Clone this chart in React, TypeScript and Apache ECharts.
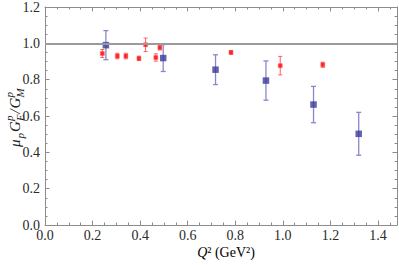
import React, { useEffect, useRef } from "react";
import * as echarts from "echarts";

const blueQ2 = [0.256, 0.497, 0.717, 0.929, 1.129, 1.319];
const blueRatio = [0.99, 0.919, 0.855, 0.795, 0.663, 0.502];
const blueErr = [0.08, 0.074, 0.082, 0.108, 0.1, 0.118];

const redQ2 = [0.241, 0.304, 0.34, 0.395, 0.423, 0.466, 0.483, 0.782, 0.989, 1.168];
const redRatio = [0.944, 0.93, 0.93, 0.917, 0.992, 0.922, 0.977, 0.95, 0.877, 0.882];
const redErr = [0.022, 0.015, 0.015, 0.012, 0.037, 0.02, 0.014, 0.01, 0.051, 0.014];

const xTickLabels = ["0.0", "0.2", "0.4", "0.6", "0.8", "1.0", "1.2", "1.4"];
const yTickLabels = ["0.0", "0.2", "0.4", "0.6", "0.8", "1.0", "1.2"];

const SERIF = "Liberation Serif";
const FRAME = "#8c8c8c";
const LABEL = "#2a2a2a";

function errorBarSeries(q: number[], v: number[], e: number[], color: string, hw: number, lw: number) {
  return {
    type: "custom",
    xAxisIndex: 0,
    yAxisIndex: 0,
    encode: { x: 0, y: 1 },
    data: q.map((x, i) => [x, v[i], e[i]]),
    z: 3,
    renderItem: (params: any, api: any) => {
      const x = api.value(0);
      const y = api.value(1);
      const err = api.value(2);
      const t = api.coord([x, y + err]);
      const b = api.coord([x, y - err]);
      const style = { stroke: color, lineWidth: lw };
      return {
        type: "group",
        children: [
          { type: "line", shape: { x1: t[0], y1: t[1], x2: b[0], y2: b[1] }, style },
          { type: "line", shape: { x1: t[0] - hw, y1: t[1], x2: t[0] + hw, y2: t[1] }, style },
          { type: "line", shape: { x1: b[0] - hw, y1: b[1], x2: b[0] + hw, y2: b[1] }, style },
        ],
      };
    },
  };
}

function xAxisDef(position: string, interval: number, tickLen: number, labels: boolean, line: boolean) {
  return {
    type: "value",
    min: 0,
    max: 1.48,
    interval,
    position,
    axisLine: { show: line, onZero: false, lineStyle: { color: FRAME, width: 1 } },
    axisTick: { show: true, inside: true, length: tickLen, lineStyle: { color: FRAME, width: 1 } },
    axisLabel: labels
      ? {
          show: true,
          showMaxLabel: false,
          margin: 3,
          fontFamily: SERIF,
          fontSize: 14,
          color: LABEL,
          formatter: (v: number) => {
            const i = Math.round(v / 0.2);
            return Math.abs(v - i * 0.2) < 1e-6 && xTickLabels[i] ? xTickLabels[i] : "";
          },
        }
      : { show: false },
    splitLine: { show: false },
  };
}

function yAxisDef(position: string, labels: boolean) {
  return {
    type: "value",
    min: 0,
    max: 1.2,
    interval: 0.2,
    position,
    axisLine: { show: true, onZero: false, lineStyle: { color: FRAME, width: 1 } },
    axisTick: { show: true, inside: true, length: 4.5, lineStyle: { color: FRAME, width: 1 } },
    minorTick: { show: true, splitNumber: 4, length: 2.5, lineStyle: { color: FRAME, width: 1 } },
    axisLabel: labels
      ? {
          show: true,
          margin: 5,
          fontFamily: SERIF,
          fontSize: 14,
          color: LABEL,
          formatter: (v: number) => yTickLabels[Math.round(v / 0.2)] ?? "",
        }
      : { show: false },
    splitLine: { show: false },
  };
}

export default function App() {
  const ref = useRef<HTMLDivElement>(null);
  useEffect(() => {
    if (!ref.current) return;
    const chart = echarts.init(ref.current, undefined, { renderer: "svg" });
    const mainFont = { fontFamily: SERIF, fontStyle: "italic", fontSize: 15, fill: "#222" };
    const smallFont = { fontFamily: SERIF, fontStyle: "italic", fontSize: 11, fill: "#222" };
    chart.setOption({
      animation: false,
      backgroundColor: "#ffffff",
      grid: { left: 45, right: 2, top: 6, bottom: 40, containLabel: false },
      xAxis: [
        xAxisDef("bottom", 0.2, 4.5, true, true),
        xAxisDef("bottom", 0.05, 2.5, false, false),
        xAxisDef("top", 0.2, 4.5, false, true),
        xAxisDef("top", 0.05, 2.5, false, false),
      ],
      yAxis: [yAxisDef("left", true), yAxisDef("right", false)],
      series: [
        {
          type: "line",
          xAxisIndex: 0,
          yAxisIndex: 0,
          data: [],
          markLine: {
            silent: true,
            symbol: ["none", "none"],
            label: { show: false },
            lineStyle: { color: "#9a9a9a", width: 1.8, type: "solid" },
            data: [{ yAxis: 1 }],
          },
          z: 1,
        },
        errorBarSeries(redQ2, redRatio, redErr, "#ff6060", 2, 1),
        errorBarSeries(blueQ2, blueRatio, blueErr, "#8888cc", 2.5, 1.3),
        {
          type: "scatter",
          xAxisIndex: 0,
          yAxisIndex: 0,
          symbol: "rect",
          symbolSize: 4,
          itemStyle: { color: "#ff0000", borderColor: "rgba(255,90,90,0.6)", borderWidth: 1 },
          data: redQ2.map((x, i) => [x, redRatio[i]]),
          z: 4,
        },
        {
          type: "scatter",
          xAxisIndex: 0,
          yAxisIndex: 0,
          symbol: "rect",
          symbolSize: 6.5,
          itemStyle: { color: "#3a3a98" },
          data: blueQ2.map((x, i) => [x, blueRatio[i]]),
          z: 4,
        },
      ],
      graphic: [
        {
          type: "group",
          x: 15,
          y: 147,
          rotation: Math.PI / 2,
          children: [
            { type: "text", x: 0, y: 0, style: { ...mainFont, text: "μ", verticalAlign: "middle" } },
            { type: "text", x: 8.6, y: 5, style: { ...smallFont, text: "p", verticalAlign: "middle" } },
            { type: "text", x: 15, y: 0, style: { ...mainFont, text: "G", verticalAlign: "middle" } },
            { type: "text", x: 26, y: -6.5, style: { ...smallFont, text: "p", verticalAlign: "middle" } },
            { type: "text", x: 26, y: 5, style: { ...smallFont, text: "E", verticalAlign: "middle" } },
            { type: "text", x: 33.5, y: 0, style: { ...mainFont, text: "/", verticalAlign: "middle" } },
            { type: "text", x: 38.5, y: 0, style: { ...mainFont, text: "G", verticalAlign: "middle" } },
            { type: "text", x: 49.5, y: -6.5, style: { ...smallFont, text: "p", verticalAlign: "middle" } },
            { type: "text", x: 49.5, y: 5, style: { ...smallFont, text: "M", verticalAlign: "middle" } },
          ],
        },
        {
          type: "text",
          x: 226,
          y: 252,
          style: {
            text: "{q|Q}{n|² (GeV²)}",
            align: "center",
            verticalAlign: "middle",
            rich: {
              q: { fontFamily: SERIF, fontStyle: "italic", fontSize: 14, color: "#222" },
              n: { fontFamily: SERIF, fontSize: 14, color: "#222" },
            },
          },
        },
      ],
    });
    return () => chart.dispose();
  }, []);
  return (
    <div
      ref={ref}
      style={{ position: "absolute", left: 0, top: 0, width: 399, height: 265, background: "#fff" }}
    />
  );
}
